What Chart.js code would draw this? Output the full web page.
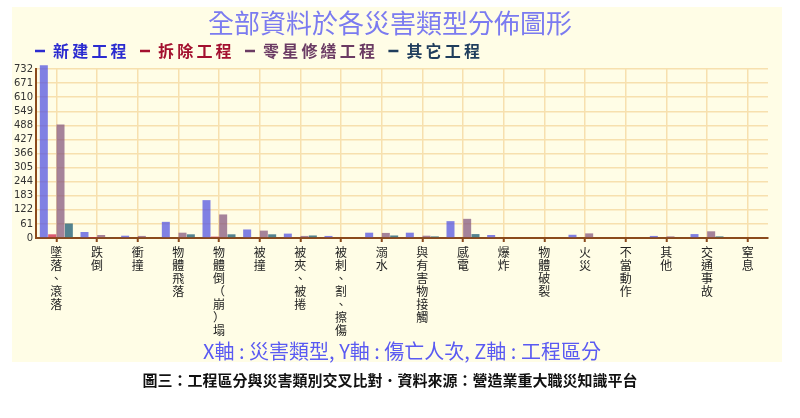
<!DOCTYPE html>
<html>
<head>
<meta charset="utf-8">
<script src="https://cdn.jsdelivr.net/npm/chart.js@4"></script>
<style>
  body { margin: 0; background: #fff; }
</style>
</head>
<body>
<canvas id="myChart" width="800" height="418"></canvas>
<script>
const categories = ['墜落、滾落', '跌倒', '衝撞', '物體飛落', '物體倒（崩）塌', '被撞', '被夾、被捲', '被刺、割、擦傷', '溺水',
  '與有害物接觸', '感電', '爆炸', '物體破裂', '火災', '不當動作', '其他', '交通事故', '窒息'];
const seriesNames = ['新建工程', '拆除工程', '零星修繕工程', '其它工程'];
const newBuild = [748, 26, 10, 70, 164, 37, 19, 9, 23, 23, 73, 13, 0, 14, 0, 9, 17, 0];
const demolish = [16, 1, 0, 0, 6, 0, 0, 0, 0, 0, 0, 0, 0, 0, 0, 0, 0, 0];
const repair = [492, 13, 9, 23, 102, 32, 9, 0, 22, 10, 83, 0, 0, 20, 0, 7, 29, 0];
const other = [63, 4, 0, 16, 16, 16, 11, 0, 11, 7, 17, 0, 0, 0, 0, 3, 7, 0];
const yTicks = [0, 61, 122, 183, 244, 305, 366, 427, 488, 549, 610, 671, 732];

const barColors = ['rgba(85,85,225,0.75)', 'rgba(205,35,75,0.75)', 'rgba(135,90,128,0.75)', 'rgba(40,100,122,0.8)'];
const legendColors = ['#2b2bd0', '#a3102f', '#6b3b63', '#1f3d5c'];
const cjk = "'Noto Sans CJK TC', 'Noto Sans', sans-serif";
const brown = '#8b4a1c';
const gridColor = '#f7e0ae';

// white page with the pale yellow panel behind the chart
const panel = {
  id: 'panel',
  beforeDraw(chart) {
    const c = chart.ctx;
    c.save();
    c.fillStyle = '#ffffff';
    c.fillRect(0, 0, chart.width, chart.height);
    c.fillStyle = '#fffde6';
    c.fillRect(12, 7, 770, 355);
    c.restore();
  }
};

// legend starts in line with the y axis, not at the panel edge
const legendShift = {
  id: 'legendShift',
  afterLayout(chart) {
    chart.legend.left += 16;
    chart.legend.right += 16;
  }
};

const allSeries = [newBuild, demolish, repair, other];
const data = {
  labels: categories.map(c => c.split('')),
  datasets: allSeries.map((vals, i) => ({
    label: seriesNames[i],
    data: vals,
    backgroundColor: barColors[i],
    borderWidth: 0,
    clip: false,
    categoryPercentage: 0.82,
    barPercentage: 0.96
  }))
};

const config = {
  type: 'bar',
  data: data,
  plugins: [panel, legendShift],
  options: {
    responsive: false,
    animation: false,
    layout: { padding: { left: 12, right: 32, top: 0, bottom: 29 } },
    plugins: {
      title: {
        display: true,
        text: '全部資料於各災害類型分佈圖形',
        color: '#7b7bf0',
        font: { family: cjk, size: 26, weight: 'normal', lineHeight: 1.0 },
        padding: { top: 10, bottom: 0 }
      },
      subtitle: {
        display: true,
        position: 'bottom',
        text: '圖三：工程區分與災害類別交叉比對．資料來源：營造業重大職災知識平台',
        color: '#111',
        font: { family: cjk, size: 15, weight: 'bold', lineHeight: 1.2 },
        padding: 0
      },
      legend: {
        position: 'top',
        align: 'start',
        labels: {
          usePointStyle: true,
          pointStyleWidth: 10,
          padding: 7,
          font: { family: cjk, size: 16, weight: 'bold' },
          generateLabels: chart => chart.data.datasets.map((ds, i) => ({
            text: ds.label.split('').join('\u2009') + '\u2009\u2009',
            fontColor: legendColors[i],
            fillStyle: legendColors[i],
            strokeStyle: legendColors[i],
            lineWidth: 2.5,
            pointStyle: 'line',
            datasetIndex: i,
            hidden: false
          }))
        }
      },
      tooltip: { enabled: false }
    },
    scales: {
      x: {
        grid: { offset: false, color: gridColor, lineWidth: 1.5, tickColor: brown, tickLength: 4, tickWidth: 2 },
        border: { color: brown, width: 2 },
        ticks: {
          autoSkip: false, maxRotation: 0, padding: 4, color: '#222',
          font: { family: cjk, size: 12, lineHeight: '13px' }
        },
        title: {
          display: true,
          text: 'X軸 : 災害類型, Y軸 : 傷亡人次, Z軸 : 工程區分',
          color: '#5a5af2',
          font: { family: cjk, size: 20, lineHeight: 1.0 },
          padding: { top: 0, bottom: 10 }
        }
      },
      y: {
        min: 0,
        max: 732,
        afterFit: s => { s.width = 24; },
        afterBuildTicks: s => { s.ticks = yTicks.map(v => ({ value: v })); },
        grid: { color: gridColor, lineWidth: 1.5, drawTicks: false },
        border: { color: brown, width: 2 },
        ticks: { autoSkip: false, padding: 3, color: '#333', font: { family: 'DejaVu Sans', size: 10 } }
      }
    }
  }
};

new Chart(document.getElementById('myChart'), config);
</script>
</body>
</html>
